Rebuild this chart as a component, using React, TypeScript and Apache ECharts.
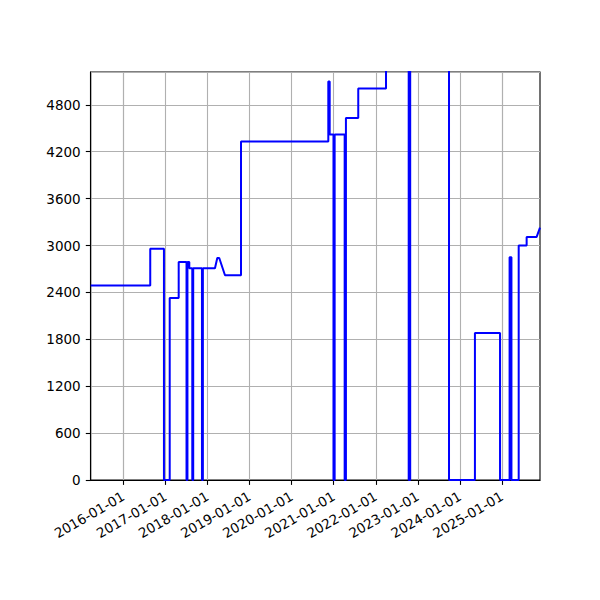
import React, { useEffect, useRef } from 'react';
import * as echarts from 'echarts';

// Dates and values (vertical jumps use the same date twice)
const dates: string[] = [
  '2015-03-24', '2016-08-22', '2016-08-22', '2016-12-19', '2016-12-19',
  '2017-02-07', '2017-02-07', '2017-04-26', '2017-04-26', '2017-07-03',
  '2017-07-03', '2017-07-11', '2017-07-11', '2017-07-27', '2017-07-27',
  '2017-08-22', '2017-08-22', '2017-08-30', '2017-08-30', '2017-11-14',
  '2017-11-14', '2017-11-22', '2017-11-22', '2018-03-07', '2018-03-27',
  '2018-04-13', '2018-06-02', '2018-10-19', '2018-10-19', '2020-11-15',
  '2020-11-15', '2020-11-27', '2020-11-27', '2020-12-30', '2020-12-30',
  '2021-01-09', '2021-01-09', '2021-04-06', '2021-04-06', '2021-04-17',
  '2021-04-17', '2021-08-02', '2021-08-02', '2022-03-31', '2022-03-31',
  '2022-10-14', '2022-10-14', '2022-10-27', '2022-10-27', '2023-09-29',
  '2023-09-29', '2024-05-11', '2024-05-11', '2024-12-15', '2024-12-15',
  '2025-03-08', '2025-03-08', '2025-03-24', '2025-03-24', '2025-05-26',
  '2025-05-26', '2025-08-03', '2025-08-03', '2025-10-29', '2025-11-27',
];

const values: number[] = [
  2490, 2490, 2960, 2960, 0,
  0, 2330, 2330, 2790, 2790,
  0, 0, 2790, 2790, 2710,
  2710, 0, 0, 2710, 2710,
  0, 0, 2710, 2710, 2840,
  2840, 2620, 2620, 4330, 4330,
  5100, 5100, 4420, 4420, 0,
  0, 4420, 4420, 0, 0,
  4630, 4630, 5010, 5010, 5600,
  5600, 0, 0, 5600, 5600,
  0, 0, 1880, 1880, 0,
  0, 2850, 2850, 0, 0,
  3000, 3000, 3110, 3110, 3230,
];

const xTickLabels: string[] = [
  '2016-01-01', '2017-01-01', '2018-01-01', '2019-01-01', '2020-01-01',
  '2021-01-01', '2022-01-01', '2023-01-01', '2024-01-01', '2025-01-01',
];

const xRange: string[] = ['2015-03-24', '2025-11-27'];
const yRange: number[] = [0, 5220];
const yStep = 600;

const toTime = (s: string): number => new Date(s + 'T00:00:00').getTime();

const App: React.FC = () => {
  const chartRef = useRef<HTMLDivElement>(null);

  useEffect(() => {
    const chart = echarts.init(chartRef.current!, null, { renderer: 'svg' });
    const tickTimes = xTickLabels.map(toTime);

    const options = {
      animation: false,
      backgroundColor: '#fff',
      textStyle: { fontFamily: 'DejaVu Sans' },
      grid: {
        left: 90.7,
        top: 72,
        width: 449.3,
        height: 408,
        show: true,
        borderColor: '#000',
        borderWidth: 1.1,
        backgroundColor: 'transparent',
      },
      xAxis: {
        type: 'time',
        min: toTime(xRange[0]),
        max: toTime(xRange[1]),
        axisLine: { show: true, lineStyle: { color: '#000', width: 1.1 } },
        axisTick: {
          show: true,
          length: 4.9,
          customValues: tickTimes,
          lineStyle: { color: '#000', width: 1.1 },
        },
        axisLabel: {
          customValues: tickTimes,
          formatter: '{yyyy}-{MM}-{dd}',
          rotate: 30,
          margin: 15,
          color: '#000',
          fontSize: 13.5,
          fontFamily: 'DejaVu Sans',
        },
        splitLine: { show: true, lineStyle: { color: '#b0b0b0', width: 1.1 } },
      },
      yAxis: {
        type: 'value',
        min: yRange[0],
        max: yRange[1],
        interval: yStep,
        axisLine: { show: true, lineStyle: { color: '#000', width: 1.1 } },
        axisTick: { show: true, length: 4.9, lineStyle: { color: '#000', width: 1.1 } },
        axisLabel: {
          showMaxLabel: false,
          formatter: (v: number) => String(v),
          margin: 10,
          color: '#000',
          fontSize: 13.5,
          fontFamily: 'DejaVu Sans',
        },
        splitLine: { show: true, lineStyle: { color: '#b0b0b0', width: 1.1 } },
      },
      series: [
        {
          type: 'line',
          data: dates.map((d, i) => [toTime(d), values[i]]),
          showSymbol: false,
          symbol: 'none',
          clip: true,
          lineStyle: { color: '#0000ff', width: 2 },
        },
      ],
    };

    chart.setOption(options);

    return () => {
      chart.dispose();
    };
  }, []);

  return (
    <div
      ref={chartRef}
      style={{ position: 'fixed', left: 0, top: 0, width: '600px', height: '600px' }}
    />
  );
};

export default App;
